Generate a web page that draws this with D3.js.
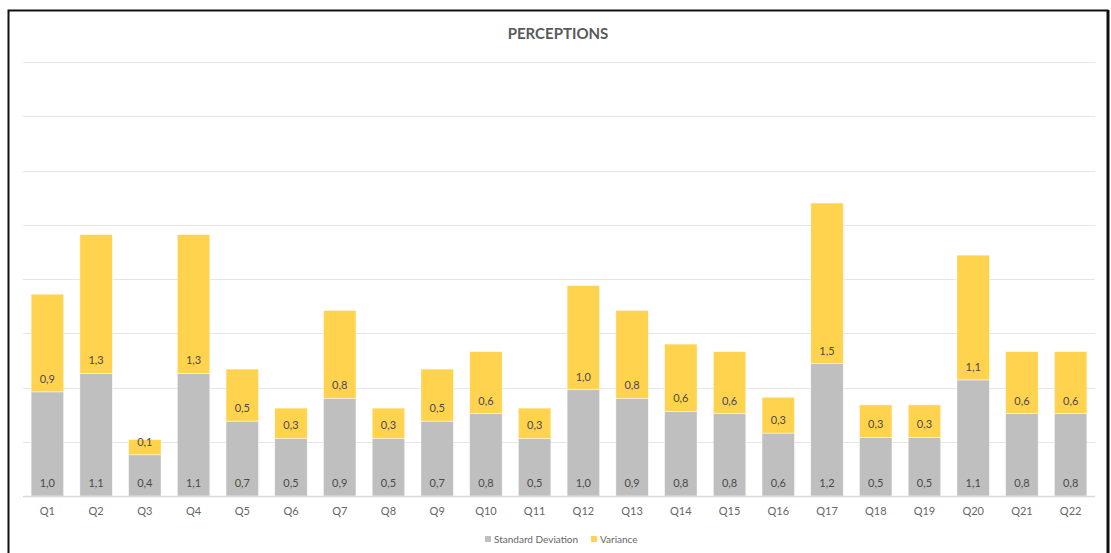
<!DOCTYPE html>
<html>
<head>
<meta charset="utf-8">
<script src="https://cdn.jsdelivr.net/npm/d3@7/dist/d3.min.js"></script>
<style>
  html, body { margin: 0; padding: 0; background: #fff; }
  svg { display: block; }
  text { font-family: Lato, "Open Sans", sans-serif; }
</style>
</head>
<body>
<svg id="chart" width="1111" height="553"></svg>
<script>
// Questions on the x axis
const categories = ["Q1","Q2","Q3","Q4","Q5","Q6","Q7","Q8","Q9","Q10","Q11",
                    "Q12","Q13","Q14","Q15","Q16","Q17","Q18","Q19","Q20","Q21","Q22"];
// Standard deviation per question (bottom segment)
const stdDev = [0.96,1.13,0.38,1.13,0.69,0.53,0.90,0.53,0.69,0.76,0.53,
                0.98,0.90,0.78,0.76,0.58,1.22,0.54,0.54,1.07,0.76,0.76];
// Variance per question (top segment)
const variance = [0.90,1.28,0.14,1.28,0.48,0.28,0.81,0.28,0.48,0.57,0.28,
                  0.96,0.81,0.62,0.57,0.33,1.48,0.30,0.30,1.15,0.57,0.57];
// Gridline values
const yTicks = [0,0.5,1,1.5,2,2.5,3,3.5,4];
const seriesNames = ["Standard Deviation","Variance"];
const seriesColors = ["#BFBFBF","#FFD34E"];

const svg = d3.select("#chart");

// Outer frame
svg.append("rect")
  .attr("x", 8.5).attr("y", 10.5).attr("width", 1099).attr("height", 600)
  .attr("fill", "none").attr("stroke", "#111").attr("stroke-width", 2);
svg.append("line")
  .attr("x1", 1108.5).attr("x2", 1108.5).attr("y1", 10).attr("y2", 553)
  .attr("stroke", "#111").attr("stroke-width", 2);

// Title
svg.append("text")
  .attr("x", 558).attr("y", 39)
  .attr("text-anchor", "middle")
  .attr("font-size", 15).attr("font-weight", 700)
  .attr("fill", "#595959")
  .text("PERCEPTIONS");

const plot = { left: 23, right: 1095, top: 62, bottom: 496 };

const x = d3.scaleBand()
  .domain(categories)
  .range([plot.left, plot.right])
  .paddingInner(1/3)
  .paddingOuter(1/6);

const y = d3.scaleLinear()
  .domain([0, 4])
  .range([plot.bottom, plot.top]);

// Gridlines
svg.append("g")
  .selectAll("line")
  .data(yTicks.slice(1))
  .join("line")
  .attr("x1", plot.left).attr("x2", plot.right)
  .attr("y1", d => Math.round(y(d)) + 0.5).attr("y2", d => Math.round(y(d)) + 0.5)
  .attr("stroke", "#E6E6E6").attr("stroke-width", 1);

// Stacked data
const rows = categories.map((c, i) => ({ cat: c, sd: stdDev[i], vr: variance[i] }));
const stack = d3.stack().keys(["sd", "vr"]);
const layers = stack(rows);

const locale = d3.formatLocale({ decimal: ",", thousands: ".", grouping: [3], currency: ["", ""] });
const fmt = locale.format(".1f");

const g = svg.append("g");
layers.forEach((layer, li) => {
  g.append("g")
    .selectAll("rect")
    .data(layer)
    .join("rect")
    .attr("x", d => x(d.data.cat))
    .attr("width", x.bandwidth())
    .attr("y", d => y(d[1]))
    .attr("height", d => y(d[0]) - y(d[1]))
    .attr("fill", seriesColors[li])
    .attr("stroke", "#fff").attr("stroke-opacity", 0.6).attr("stroke-width", 0.75);
});

// X axis baseline
svg.append("line")
  .attr("x1", plot.left).attr("x2", plot.right)
  .attr("y1", plot.bottom + 0.5).attr("y2", plot.bottom + 0.5)
  .attr("stroke", "#D9D9D9").attr("stroke-width", 1.5);

// Segment value labels (inside base)
layers.forEach((layer) => {
  g.append("g")
    .selectAll("text")
    .data(layer)
    .join("text")
    .attr("x", d => x(d.data.cat) + x.bandwidth() / 2)
    .attr("y", d => y(d[0]) - 9)
    .attr("text-anchor", "middle")
    .attr("font-size", 11)
    .attr("fill", "#4a4a4a")
    .text(d => fmt(d[1] - d[0]));
});

// Category labels
const xAxis = d3.axisBottom(x).tickSize(0).tickPadding(11);
const ax = svg.append("g")
  .attr("transform", `translate(0,${plot.bottom})`)
  .call(xAxis);
ax.select(".domain").remove();
ax.selectAll("text")
  .attr("font-family", "Lato, 'Open Sans', sans-serif")
  .attr("font-size", 11)
  .attr("fill", "#666666");

// Legend
const legend = svg.append("g").attr("transform", "translate(485,539)");
const legendX = [0, 106];
seriesNames.forEach((name, i) => {
  const item = legend.append("g").attr("transform", `translate(${legendX[i]},0)`);
  item.append("rect")
    .attr("x", 0).attr("y", -3).attr("width", 6).attr("height", 6)
    .attr("fill", seriesColors[i]);
  item.append("text")
    .attr("x", 9).attr("y", 3.5)
    .attr("font-size", 10)
    .attr("fill", "#666666")
    .text(name);
});
</script>
</body>
</html>
